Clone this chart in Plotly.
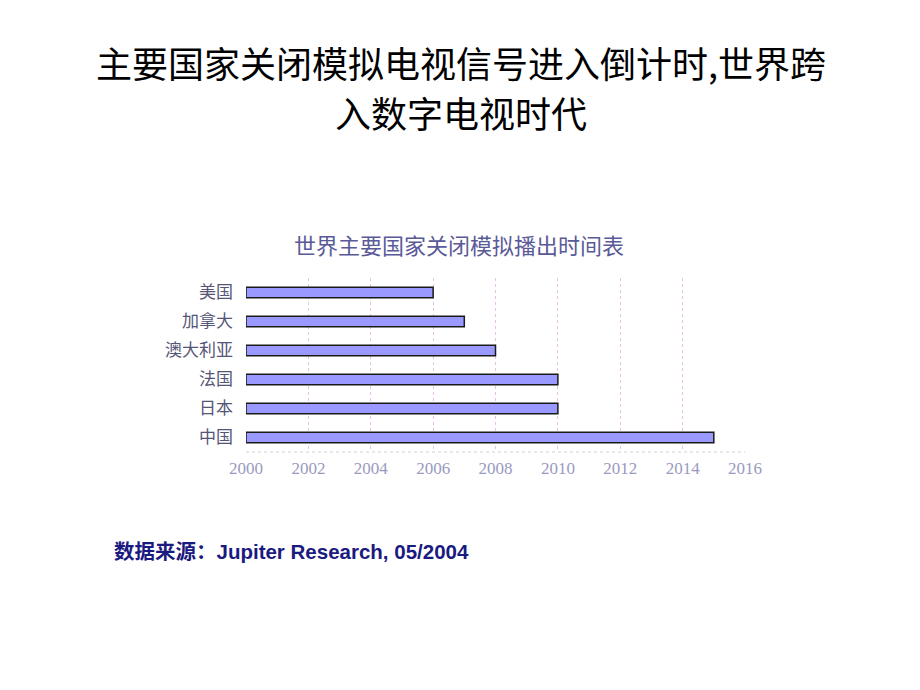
import plotly.graph_objects as go

countries = ["美国", "加拿大", "澳大利亚", "法国", "日本", "中国"]
shutoff_year = [2006, 2007, 2008, 2010, 2010, 2015]
base_year = 2000
x_ticks = [2000, 2002, 2004, 2006, 2008, 2010, 2012, 2014, 2016]

W, H = 920, 690
x0, x1 = 246 / W, 745 / W
y0, y1 = 1 - 452 / H, 1 - 278 / H

fig = go.Figure()
fig.add_trace(go.Bar(
    y=countries,
    x=[v - base_year for v in shutoff_year],
    base=base_year,
    orientation="h",
    width=0.36,
    marker=dict(color="#9999ff", line=dict(color="#1a1a1a", width=1.5)),
    hoverinfo="skip",
))

fig.update_layout(
    width=W, height=H,
    margin=dict(l=0, r=0, t=0, b=0, autoexpand=False),
    paper_bgcolor="white", plot_bgcolor="white",
    showlegend=False,
    xaxis=dict(
        domain=[x0, x1], range=[2000, 2016], automargin=False,
        tickvals=x_ticks, ticktext=[str(t) for t in x_ticks],
        showgrid=True, gridcolor="#e8c0e8", griddash="dot", gridwidth=1,
        zeroline=False, showline=False, ticks="",
        tickfont=dict(family="Liberation Serif, Noto Sans CJK SC", size=17, color="#9a9ac0"),
        ticklabelstandoff=4,
    ),
    yaxis=dict(
        domain=[y0, y1], autorange="reversed", automargin=False,
        showgrid=False, zeroline=False, showline=False, ticks="",
        tickfont=dict(family="Noto Sans CJK SC", size=17, color="#555577"),
        ticklabelstandoff=12,
    ),
    font=dict(family="Noto Sans CJK SC"),
)

# dashed frame line at bottom of plot area
fig.add_shape(type="line", xref="paper", yref="paper", x0=x0, x1=x1, y0=y0, y1=y0,
              line=dict(color="#d0d0d8", width=1, dash="dot"))

title_lines = ["主要国家关闭模拟电视信号进入倒计时,世界跨", "入数字电视时代"]
for line, ypix in zip(title_lines, [62, 112]):
    fig.add_annotation(text=line,
                       xref="paper", yref="paper", x=461 / W, y=1 - ypix / H,
                       xanchor="center", yanchor="middle",
                       showarrow=False, align="center", borderpad=0,
                       font=dict(family="Noto Sans CJK SC", size=36, color="#000000"))
fig.add_annotation(text="世界主要国家关闭模拟播出时间表",
                   xref="paper", yref="paper", x=459 / W, y=1 - 244 / H, xanchor="center", yanchor="middle",
                   showarrow=False,
                   font=dict(family="Noto Sans CJK SC", size=22, color="#5a5a98"))
fig.add_annotation(text="<b>数据来源：Jupiter Research, 05/2004</b>",
                   xref="paper", yref="paper", x=112 / W, y=1 - 551 / H, xanchor="left", yanchor="middle",
                   showarrow=False,
                   font=dict(family="Liberation Sans, Noto Sans CJK SC", size=20.5, color="#1a1a80"))

fig.write_html("out.html")
